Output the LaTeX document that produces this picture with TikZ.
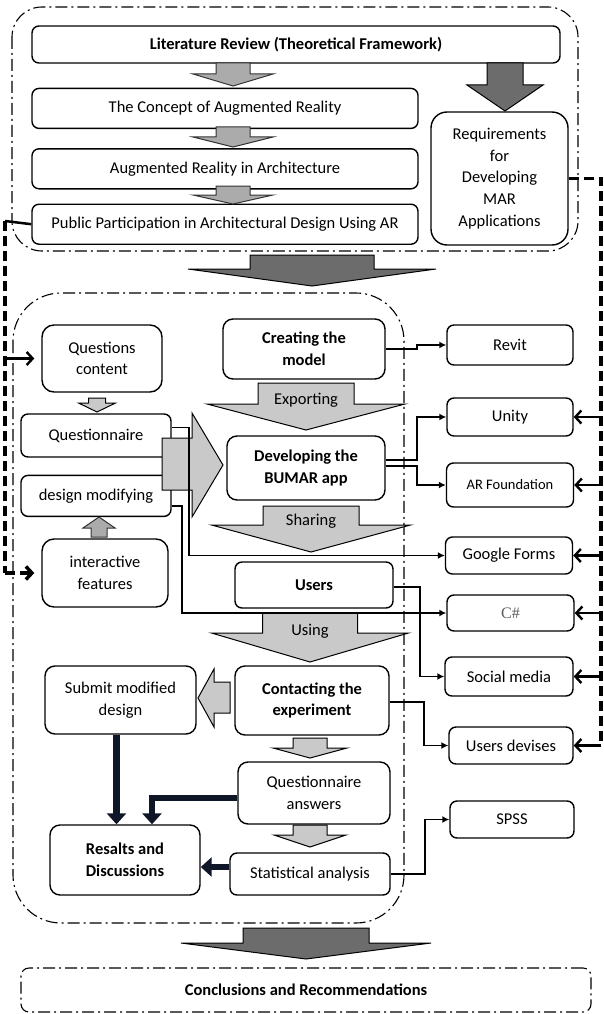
\documentclass[tikz,border=0pt]{standalone}
\usepackage{fontspec}
\setmainfont{Carlito}
\newfontfamily\serifcs{Liberation Serif}
\usetikzlibrary{positioning,arrows.meta}

\definecolor{lightarrow}{HTML}{C9C9C9}
\definecolor{midarrow}{HTML}{ABABAB}
\definecolor{darkarrow}{HTML}{6C6C6C}
\definecolor{navyline}{HTML}{0E1628}

\tikzstyle{box}=[
draw=black,
line width=1.4pt,
rounded corners=7pt,
align=center,
inner sep=2pt,
font=\fontsize{16.5}{21.7}\selectfont
]
\tikzstyle{boldbox}=[box,font=\fontsize{16.5}{21.7}\selectfont\bfseries]
\tikzstyle{frame}=[draw=black,line width=1.1pt,dash pattern=on 12pt off 4pt on 2pt off 4pt]
\tikzstyle{larrow}=[draw=black,line width=1pt,fill=lightarrow]
\tikzstyle{marrow}=[draw=black!80,line width=1pt,fill=midarrow]
\tikzstyle{darrow}=[draw=black,line width=1pt,fill=darkarrow]
\tikzstyle{link}=[draw,line width=1.6pt,-{Latex[length=7pt,width=7pt]}]
\tikzstyle{bus}=[draw,line width=3.5pt,dash pattern=on 10pt off 5pt]
\tikzstyle{barb}=[draw,line width=2.4pt,-{Straight Barb[length=6pt,width=13pt]}]
\tikzstyle{navyarrow}=[draw=navyline,line width=6.5pt,-{Triangle[length=11pt,width=19pt]}]
\tikzstyle{arrlabel}=[font=\fontsize{16.5}{20}\selectfont]

% style, x, top, head base, tip, half shaft, half head
\newcommand{\blockdown}[7]{\draw[#1] (#2-#6,#3) -- (#2+#6,#3) -- (#2+#6,#4) -- (#2+#7,#4) -- (#2,#5) -- (#2-#7,#4) -- (#2-#6,#4) -- cycle;}

\begin{document}
\begin{tikzpicture}[x=1pt,y=1pt]
\useasboundingbox (0,0) rectangle (604,-1014);

\draw[frame,rounded corners=30pt] (12,-7) rectangle (578,-251);
\draw[frame,rounded corners=48pt] (13,-293) rectangle (404,-923);

\node[boldbox,minimum width=528pt,minimum height=37pt] (lit) at (296,-44.5) {Literature Review (Theoretical Framework)};
\node[box,minimum width=386pt,minimum height=40pt,below=24pt of lit.south west,anchor=north west] (concept) {The Concept of Augmented Reality};
\node[box,minimum width=386pt,minimum height=40pt,below=19pt of concept] (archi) {Augmented Reality in Architecture};
\node[box,minimum width=386pt,minimum height=40pt,below=14pt of archi] (public) {Public Participation in Architectural Design Using AR};
\node[box,rounded corners=16pt,minimum width=137pt,minimum height=133pt] (req) at (499.5,-178.5) {Requirements\\for\\Developing\\MAR\\Applications};

\node[box,rounded corners=12pt,minimum width=120pt,minimum height=67pt] (qcont) at (102,-358.5) {Questions\\content};
\node[box,minimum width=150pt,minimum height=43pt] (quest) at (96,-435.5) {Questionnaire};
\node[box,minimum width=150pt,minimum height=41pt,below=17pt of quest] (desmod) {design modifying};
\node[box,rounded corners=12pt,minimum width=126pt,minimum height=68pt] (inter) at (105,-573) {interactive\\features};

\node[boldbox,rounded corners=10pt,minimum width=162pt,minimum height=60pt] (create) at (304,-349) {Creating the\\model};
\node[boldbox,rounded corners=10pt,minimum width=158pt,minimum height=64pt] (develop) at (306,-468) {Developing the\\BUMAR app};
\node[boldbox,minimum width=158pt,minimum height=46pt] (users) at (314,-585) {Users};
\node[boldbox,rounded corners=10pt,minimum width=154pt,minimum height=69pt] (contact) at (312,-700.5) {Contacting the\\experiment};
\node[box,rounded corners=10pt,minimum width=151pt,minimum height=68pt] (submit) at (120.5,-700) {Submit modified\\design};
\node[box,rounded corners=10pt,minimum width=152pt,minimum height=62pt] (qans) at (314,-793) {Questionnaire\\answers};
\node[box,minimum width=160pt,minimum height=42pt] (stat) at (310,-874) {Statistical analysis};
\node[boldbox,rounded corners=10pt,minimum width=150pt,minimum height=70pt] (results) at (125,-860) {Resalts and\\Discussions};

\node[box,minimum width=126pt,minimum height=40pt] (revit) at (510,-345) {Revit};
\node[box,minimum width=126pt,minimum height=38pt] (unity) at (510,-417) {Unity};
\node[box,minimum width=127pt,minimum height=44pt,font=\fontsize{14.5}{17}\selectfont] (arf) at (510,-485) {AR Foundation};
\node[box,minimum width=127pt,minimum height=37pt] (gforms) at (509,-555.5) {Google Forms};
\node[box,minimum width=127pt,minimum height=36pt,font=\fontsize{16}{19}\selectfont\serifcs,text=black!65] (csharp) at (510.5,-613) {C\#};
\node[box,minimum width=128pt,minimum height=39pt] (social) at (509,-676.5) {Social media};
\node[box,minimum width=124pt,minimum height=37pt] (udev) at (511,-745.5) {Users devises};
\node[box,minimum width=124pt,minimum height=37pt] (spss) at (512,-819.5) {SPSS};

\node[boldbox,frame,rounded corners=8pt,minimum width=570pt,minimum height=44pt] (concl) at (306,-990) {Conclusions and Recommendations};

\blockdown{marrow}{233}{-63}{-74}{-86}{17}{40}
\blockdown{marrow}{233}{-127}{-137}{-147}{17}{40}
\blockdown{marrow}{233}{-186}{-195}{-204}{17}{40}
\blockdown{darrow}{505}{-63}{-85}{-111}{18}{38}
\blockdown{darrow}{312}{-255}{-269}{-286}{62}{124}
\blockdown{darrow}{306}{-928}{-943}{-959}{63}{125}

\blockdown{larrow}{97}{-398}{-403}{-412}{8.5}{18.5}
\blockdown{marrow}{99}{-537}{-528}{-517}{8}{16}
\blockdown{larrow}{306}{-383}{-404}{-430}{48}{99}
\blockdown{larrow}{311}{-506}{-525}{-552}{48}{99.5}
\blockdown{larrow}{310}{-613}{-633}{-662}{47.5}{98.5}
\blockdown{larrow}{310}{-738}{-748}{-758}{17}{37}
\blockdown{larrow}{310}{-825}{-835}{-847}{17}{36}
\draw[larrow] (230,-682) -- (214,-682) -- (214,-669) -- (198,-698) -- (214,-727) -- (214,-713) -- (230,-713) -- cycle;
\draw[larrow] (162,-438) -- (192,-438) -- (192,-413) -- (223,-465) -- (192,-517) -- (192,-490) -- (162,-490) -- cycle;

\node[arrlabel] (explbl) at (306,-400) {Exporting};
\node[arrlabel] (sharelbl) at (311,-521) {Sharing};
\node[arrlabel] (uselbl) at (310,-631) {Using};

\draw[link] (create.east) -- ++(31,0) |- (revit.west);
\draw[link] ([yshift=8pt]develop.east) -- ++(31,0) |- (unity.west);
\draw[link] ([yshift=2pt]develop.east) -- ++(31,0) |- (arf.west);
\draw[link] ([yshift=8pt]quest.east) -- ++(17,0) |- (gforms.west);
\draw[link] ([yshift=-10pt]desmod.east) -- ++(10,0) |- (csharp.west);
\draw[link] ([yshift=-2pt]users.east) -- ++(26,0) |- (social.west);
\draw[link] ([yshift=-1.5pt]contact.east) -- ++(34,0) |- (udev.west);
\draw[link] (stat.east) -- ++(34,0) |- (spss.west);

\coordinate (sdrop) at ([xshift=-4pt]submit.south);
\draw[navyarrow] (sdrop) -- (sdrop |- results.north);
\draw[navyarrow] ([yshift=-5pt]qans.west) -| ([xshift=27pt]results.north);
\draw[navyarrow] ([yshift=7pt]stat.west) -- ([yshift=-7pt]results.east);

\coordinate (rbus) at (601,-178.5);
\draw[bus] (req.east) -- (rbus) -- (rbus |- udev.east);
\foreach \n in {unity,arf,gforms,csharp,social,udev}
  \draw[barb] (rbus |- \n.east) -- (\n.east);

\coordinate (lbus) at (5,-221);
\draw[line width=2.5pt] (public.west) -- (lbus);
\draw[bus] (lbus) -- (lbus |- inter.west);
\draw[bus,-{Straight Barb[length=6pt,width=13pt]},shorten >=7pt] (lbus |- inter.west) -- (inter.west);
\draw[barb,shorten >=7pt] (lbus |- qcont.west) -- (qcont.west);

\end{tikzpicture}
\end{document}
